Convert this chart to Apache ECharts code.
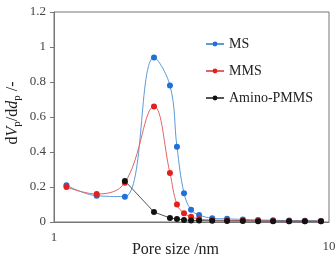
<!DOCTYPE html>
<html>
<head>
<meta charset="UTF-8">
<title>Pore size distribution</title>
<script src="https://cdn.jsdelivr.net/npm/echarts@6/dist/echarts.min.js"></script>
<style>
  html, body { margin: 0; padding: 0; background: #fff; }
  #chart { width: 336px; height: 261px; }
</style>
</head>
<body>
<div id="chart"></div>
<script>
// pore size (nm) for MS / MMS points
var poreMS = [1.11, 1.43, 1.81, 2.31, 2.64, 2.80, 2.97, 3.15, 3.37, 3.76, 4.26, 4.86, 5.52, 6.26, 7.16, 8.17, 9.35];
var valMS  = [0.21, 0.15, 0.145, 0.94, 0.78, 0.43, 0.165, 0.07, 0.04, 0.022, 0.018, 0.015, 0.012, 0.01, 0.008, 0.007, 0.006];
var valMMS = [0.20, 0.16, 0.225, 0.66, 0.28, 0.10, 0.05, 0.03, 0.017, 0.012, 0.01, 0.008, 0.007, 0.006, 0.005, 0.005, 0.004];
// Amino-PMMS starts later
var poreAmino = [1.81, 2.31, 2.64, 2.80, 2.97, 3.15, 3.37, 3.76, 4.26, 4.86, 5.52, 6.26, 7.16, 8.17, 9.35];
var valAmino  = [0.235, 0.057, 0.023, 0.017, 0.012, 0.009, 0.008, 0.007, 0.006, 0.006, 0.005, 0.005, 0.005, 0.005, 0.005];
var yTicks = [0, 0.2, 0.4, 0.6, 0.8, 1, 1.2];

function pairs(xs, ys) {
    var out = [];
    for (var i = 0; i < xs.length; i++) out.push([xs[i], ys[i]]);
    return out;
}

var serif = '"Liberation Serif", "DejaVu Serif", serif';
var myChart = echarts.init(document.getElementById('chart'));
var option = {
    animation: false,
    grid: {
        left: 54, right: 7, top: 12, bottom: 39,
        containLabel: false, outerBoundsMode: 'none',
        show: true, borderColor: '#777', borderWidth: 1
    },
    legend: {
        orient: 'vertical',
        left: 200, top: 32,
        itemGap: 13,
        itemWidth: 18, itemHeight: 6,
        textStyle: { fontFamily: serif, fontSize: 14, color: '#222' },
        data: ['MS', 'MMS', 'Amino-PMMS']
    },
    xAxis: {
        type: 'log', logBase: 10, min: 1, max: 10,
        name: 'Pore size /nm', nameLocation: 'middle', nameGap: 20, nameMoveOverlap: false,
        nameTextStyle: { fontFamily: serif, fontSize: 16, color: '#222', padding: [0, 32, 0, 0] },
        axisLine: { lineStyle: { color: '#777' } },
        axisTick: { show: false },
        splitLine: { show: false },
        axisLabel: {
            margin: 9,
            formatter: function (v) { return v >= 10 ? '{b|' + v + '}' : '{a|' + v + '}'; },
            rich: {
                a: { fontFamily: serif, fontSize: 13, color: '#444' },
                b: { fontFamily: serif, fontSize: 13, color: '#444', padding: [9, 0, 0, 0] }
            }
        }
    },
    yAxis: {
        type: 'value', min: 0, max: 1.2, interval: 0.2,
        name: '{n|d}{i|V}{s|p}{n|/d}{i|d}{s|p}{n| /-}',
        nameLocation: 'middle', nameGap: 31, nameRotate: 90, nameMoveOverlap: false,
        nameTextStyle: {
            padding: [0, 0, 0, 8],
            rich: {
                n: { fontFamily: serif, fontSize: 16, color: '#222' },
                i: { fontFamily: serif, fontSize: 16, color: '#222', fontStyle: 'italic' },
                s: { fontFamily: serif, fontSize: 11, color: '#222', padding: [9, 0, 0, 0] }
            }
        },
        axisLine: { show: true, lineStyle: { color: '#777' } },
        axisTick: { show: true, length: 4, lineStyle: { color: '#777' } },
        splitLine: { show: false },
        axisLabel: {
            fontFamily: serif, fontSize: 13, color: '#444', margin: 8,
            formatter: function (v) {
                for (var i = 0; i < yTicks.length; i++) if (Math.abs(v - yTicks[i]) < 1e-9) return String(yTicks[i]);
                return '';
            }
        }
    },
    series: [
        {
            name: 'MS', type: 'line', smooth: 0.4,
            data: pairs(poreMS, valMS),
            symbol: 'circle', symbolSize: 6,
            itemStyle: { color: '#1f6fdc' },
            lineStyle: { color: '#5b9bd5', width: 1 }
        },
        {
            name: 'MMS', type: 'line', smooth: 0.4,
            data: pairs(poreMS, valMMS),
            symbol: 'circle', symbolSize: 6,
            itemStyle: { color: '#e3201b' },
            lineStyle: { color: '#e06666', width: 1 }
        },
        {
            name: 'Amino-PMMS', type: 'line', smooth: false,
            data: pairs(poreAmino, valAmino),
            symbol: 'circle', symbolSize: 6,
            itemStyle: { color: '#111' },
            lineStyle: { color: '#555', width: 1 }
        }
    ]
};
myChart.setOption(option);
</script>
</body>
</html>
